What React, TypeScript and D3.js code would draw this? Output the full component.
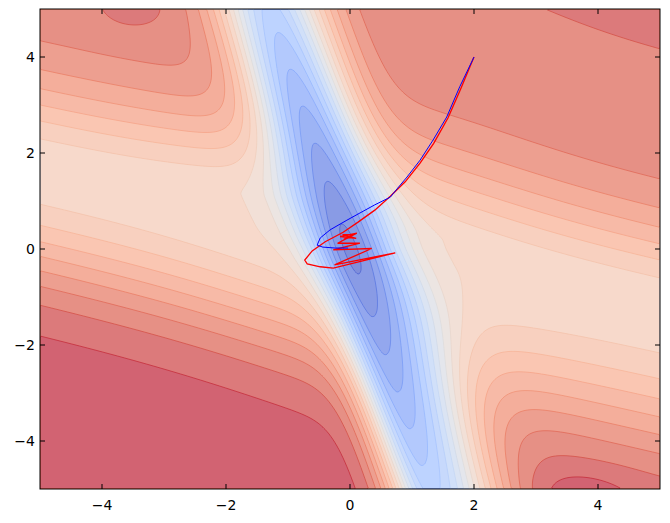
import React, { useEffect, useRef } from 'react';
import * as d3 from 'd3';

// tick values shown on both axes
const xTicks = [-4, -2, 0, 2, 4];
const yTicks = [-4, -2, 0, 2, 4];

// number of contour bands
const nLevels = 22;

// plain gradient descent path (blue)
const gdPath: [number, number][] = [
  [2.0, 4.0], [1.77, 3.38], [1.56, 2.75], [1.34, 2.27], [1.13, 1.85],
  [0.92, 1.5], [0.77, 1.27], [0.65, 1.08], [0.4, 0.92], [0.16, 0.75],
  [-0.05, 0.6], [-0.32, 0.4], [-0.48, 0.23], [-0.53, 0.08], [-0.44, 0.04],
  [-0.24, 0.02], [-0.03, 0.02],
];

// momentum path (red)
const momPath: [number, number][] = [
  [2.0, 4.0], [1.79, 3.35], [1.58, 2.73], [1.35, 2.2], [1.13, 1.79],
  [0.89, 1.4], [0.65, 1.1], [0.4, 0.81], [0.13, 0.56], [-0.11, 0.35],
  [-0.4, 0.15], [-0.61, -0.04], [-0.73, -0.23], [-0.69, -0.31], [-0.48, -0.37],
  [-0.27, -0.4], [0.73, -0.08], [-0.25, -0.33], [0.35, 0.01], [-0.27, -0.02],
  [0.16, 0.12], [-0.2, 0.12], [0.11, 0.33], [-0.16, 0.26], [0.1, 0.22],
  [-0.12, 0.3], [0.05, 0.3], [-0.1, 0.2], [0.02, 0.25], [-0.05, 0.22],
];

// coolwarm colormap samples at 0, 0.1, ... 1
const coolwarm = ['#3b4cc0', '#5977e3', '#7b9ff9', '#9ebeff', '#c0d4f5', '#dddcdc',
  '#f2cbb7', '#f7ac8e', '#ee8468', '#d65244', '#b40426'];

const alpha = 0.67;

const sig = (t: number) => 1 / (1 + Math.exp(-t));

function surface(x: number, y: number) {
  const u = x + y / 3.9;          // across the blue valley
  const v = y + 0.29 * x - 0.35;  // across the pale band
  const s = y;                    // along the valley
  const up = sig((v + 0.8) / 0.4);
  const fac = u < 0 ? 1.15 * up + 0.9 * (1 - up) : 1.2 * up + 1.5 * (1 - up);
  const W = (0.62 + 0.02 * Math.abs(s)) * fac;
  const p = 1 - Math.exp(-((u / W) ** 2));
  // the pale band widens where it meets the valley
  const dz = 0.45 * Math.exp(-((u / 2.2) ** 2)) * Math.exp(-((v / 2) ** 2));
  let Q;
  if (v >= 0) {
    const k = 1 - 0.13 * Math.exp(-(((x - 1) / 2.5) ** 2));
    const vv = Math.max(0, v - dz) * k;
    Q = 0.28 * Math.tanh(Math.pow(vv / 2.0, 1.5)) + 0.0056 * vv;
    Q += 0.03 * Math.exp(-(((x + 3.5) / 0.6) ** 2) - (((y - 5.0) / 0.5) ** 2));
  } else {
    const k = 1 - 0.2 * sig((x + 1) / 1.5);
    const vv = Math.max(0, -v - dz) * k;
    Q = 0.38 * Math.tanh((vv / 2.75) ** 2);
    Q += 0.035 * Math.exp(-(((x - 3.7) / 0.8) ** 2) - (((y + 5.1) / 0.5) ** 2));
  }
  const q = 0.6 + Q;
  const w = 0.06 * Math.sqrt(s * s + 0.3);
  return p * q + (1 - p) * w;
}

export default function App() {
  const ref = useRef<SVGSVGElement>(null);

  useEffect(() => {
    const width = 670, height = 523;
    const margin = { top: 9, right: 10, bottom: 34, left: 40 };
    const pw = width - margin.left - margin.right;
    const ph = height - margin.top - margin.bottom;

    const x = d3.scaleLinear().domain([-5, 5]).range([margin.left, margin.left + pw]);
    const y = d3.scaleLinear().domain([-5, 5]).range([margin.top + ph, margin.top]);

    const cmapBase = d3.scaleLinear<string>()
      .domain(d3.range(coolwarm.length).map(i => i / (coolwarm.length - 1)))
      .range(coolwarm)
      .interpolate(d3.interpolateRgb);
    const cmap = (t: number) => d3.interpolateRgb('#ffffff', cmapBase(t))(alpha);

    const svg = d3.select(ref.current);
    svg.selectAll('*').remove();

    // grid
    const nx = 310, ny = 240;
    const values = new Array(nx * ny);
    for (let j = 0; j < ny; j++) {
      for (let i = 0; i < nx; i++) {
        const gx = -5 + ((i + 0.5) * 10) / nx;
        const gy = 5 - ((j + 0.5) * 10) / ny;
        values[j * nx + i] = surface(gx, gy);
      }
    }
    const thresholds = d3.range(1, nLevels).map(k => k / nLevels);
    const contours = d3.contours().size([nx, ny]).thresholds(thresholds)(values);

    const sx = pw / nx, sy = ph / ny;
    const path = d3.geoPath(d3.geoTransform({
      point(px, py) {
        this.stream.point(margin.left + px * sx, margin.top + py * sy);
      },
    }));

    svg.append('clipPath').attr('id', 'plot-clip')
      .append('rect')
      .attr('x', margin.left).attr('y', margin.top)
      .attr('width', pw).attr('height', ph);

    const g = svg.append('g').attr('clip-path', 'url(#plot-clip)');

    g.append('rect')
      .attr('x', margin.left).attr('y', margin.top)
      .attr('width', pw).attr('height', ph)
      .attr('fill', cmap(0.5 / nLevels));

    g.selectAll('path.band')
      .data(contours)
      .join('path')
      .attr('class', 'band')
      .attr('d', path as any)
      .attr('fill', (d, i) => cmap((i + 1.5) / nLevels));

    g.selectAll('path.iso')
      .data(contours)
      .join('path')
      .attr('class', 'iso')
      .attr('d', path as any)
      .attr('fill', 'none')
      .attr('stroke', d => cmapBase(d.value))
      .attr('stroke-opacity', 0.7)
      .attr('stroke-width', 1);

    const line = d3.line<[number, number]>()
      .x(d => x(d[0]))
      .y(d => y(d[1]));

    g.append('path')
      .datum(momPath)
      .attr('fill', 'none')
      .attr('stroke', '#ff0000')
      .attr('stroke-width', 1.3)
      .attr('d', line);

    g.append('path')
      .datum(gdPath)
      .attr('fill', 'none')
      .attr('stroke', '#0000ff')
      .attr('stroke-width', 1)
      .attr('d', line);

    // frame
    svg.append('rect')
      .attr('x', margin.left).attr('y', margin.top)
      .attr('width', pw).attr('height', ph)
      .attr('fill', 'none')
      .attr('stroke', '#000')
      .attr('stroke-width', 1);

    const tickLen = 5;
    const axes = svg.append('g').attr('stroke', '#000').attr('stroke-width', 1);
    xTicks.forEach(t => {
      axes.append('line').attr('x1', x(t)).attr('x2', x(t))
        .attr('y1', margin.top + ph).attr('y2', margin.top + ph - tickLen);
      axes.append('line').attr('x1', x(t)).attr('x2', x(t))
        .attr('y1', margin.top).attr('y2', margin.top + tickLen);
    });
    yTicks.forEach(t => {
      axes.append('line').attr('y1', y(t)).attr('y2', y(t))
        .attr('x1', margin.left).attr('x2', margin.left + tickLen);
      axes.append('line').attr('y1', y(t)).attr('y2', y(t))
        .attr('x1', margin.left + pw).attr('x2', margin.left + pw - tickLen);
    });

    const fmt = (t: number) => (t < 0 ? '\u2212' + Math.abs(t) : String(t));
    svg.append('g').selectAll('text')
      .data(xTicks)
      .join('text')
      .attr('x', d => x(d))
      .attr('y', margin.top + ph + 21)
      .attr('text-anchor', 'middle')
      .attr('font-family', 'DejaVu Sans')
      .attr('font-size', 14)
      .text(fmt);

    svg.append('g').selectAll('text')
      .data(yTicks)
      .join('text')
      .attr('x', margin.left - 5)
      .attr('y', d => y(d) + 5)
      .attr('text-anchor', 'end')
      .attr('font-family', 'DejaVu Sans')
      .attr('font-size', 14)
      .text(fmt);
  }, []);

  return (
    <svg ref={ref} width={670} height={523}
      style={{ position: 'absolute', left: 0, top: 0, background: '#fff' }} />
  );
}
